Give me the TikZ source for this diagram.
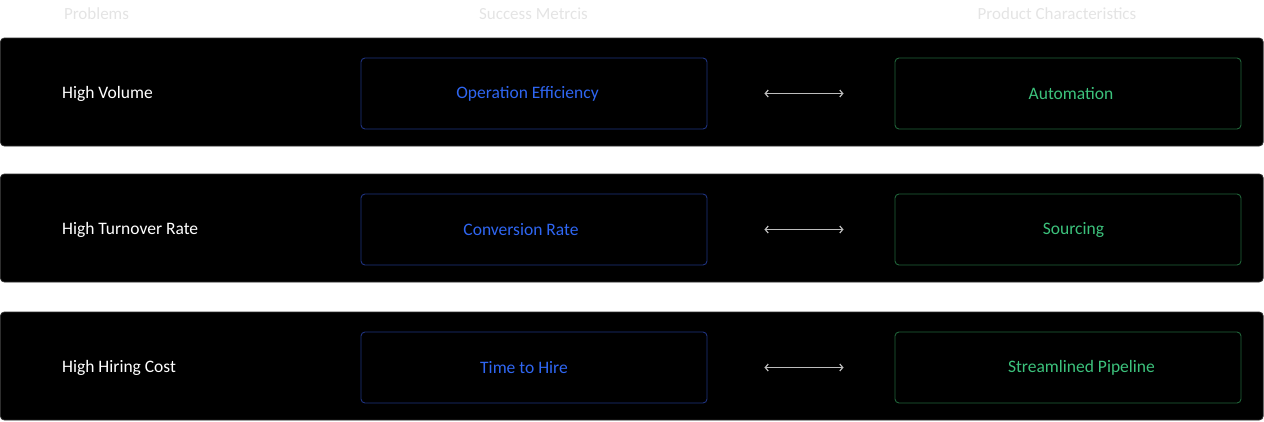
\documentclass[tikz,border=0pt]{standalone}
\usepackage{fontspec}
\setmainfont{Carlito}
\usetikzlibrary{arrows.meta}
\definecolor{hdr}{HTML}{E4E4E4}
\definecolor{rowfill}{HTML}{000000}
\definecolor{rowedge}{HTML}{2E2E2E}
\definecolor{bluetxt}{HTML}{2F66F2}
\definecolor{blueedge}{HTML}{1F3380}
\definecolor{greentxt}{HTML}{3CC27C}
\definecolor{greenedge}{HTML}{206439}
\definecolor{arrowcol}{HTML}{BDBDBD}
\tikzset{
  rowbox/.style={draw=rowedge, fill=rowfill, line width=0.8pt, rounded corners=4pt},
  header/.style={text=hdr, font=\fontsize{17}{20}\selectfont, anchor=center, inner sep=0pt},
  probtext/.style={text=white, font=\fontsize{17.5}{20}\selectfont, anchor=west, inner sep=0pt},
  boxbase/.style={line width=0.9pt, rounded corners=4pt, minimum width=346pt, minimum height=71pt, inner sep=0pt},
  metricbox/.style={boxbase, draw=blueedge},
  charbox/.style={boxbase, draw=greenedge},
  metrictext/.style={text=bluetxt, font=\fontsize{17.5}{20}\selectfont, inner sep=0pt},
  chartext/.style={text=greentxt, font=\fontsize{17.5}{20}\selectfont, inner sep=0pt},
  link/.style={draw=arrowcol, line width=1.2pt, {Straight Barb[length=3pt,width=7pt]}-{Straight Barb[length=3pt,width=7pt]}, shorten <=57pt, shorten >=51pt}
}
\begin{document}
\begin{tikzpicture}[x=1pt,y=-1pt]
\useasboundingbox (0,0) rectangle (1264,421);
% headers
\node[header] (h1) at (96.5,14) {Problems};
\node[header] (h2) at (533.5,14) {Success Metrcis};
\node[header] (h3) at (1057,14) {Product Characteristics};
% rows
\foreach \top/\i in {38/1,174/2,312/3}{
  \draw[rowbox] (0.4,\top) rectangle (1263.2,\top+108);
}
% row 1
\node[probtext] (p1) at (62,93.5) {High Volume};
\node[metricbox] (m1) at (534,93.5) {};
\node[metrictext] (mt1) at (527.5,94) {Operation Efficiency};
\node[charbox] (c1) at (1068,93.5) {};
\node[chartext] (ct1) at (1071,94) {Automation};
\draw[link] (m1.east) -- (c1.west);
% row 2
\node[probtext] (p2) at (62,229.5) {High Turnover Rate};
\node[metricbox] (m2) at (534,229.5) {};
\node[metrictext] (mt2) at (521,230) {Conversion Rate};
\node[charbox] (c2) at (1068,229.5) {};
\node[chartext] (ct2) at (1073.5,230) {Sourcing};
\draw[link] (m2.east) -- (c2.west);
% row 3
\node[probtext] (p3) at (62,367.5) {High Hiring Cost};
\node[metricbox] (m3) at (534,367.5) {};
\node[metrictext] (mt3) at (524,368) {Time to Hire};
\node[charbox] (c3) at (1068,367.5) {};
\node[chartext] (ct3) at (1081.5,368) {Streamlined Pipeline};
\draw[link] (m3.east) -- (c3.west);
\end{tikzpicture}
\end{document}
